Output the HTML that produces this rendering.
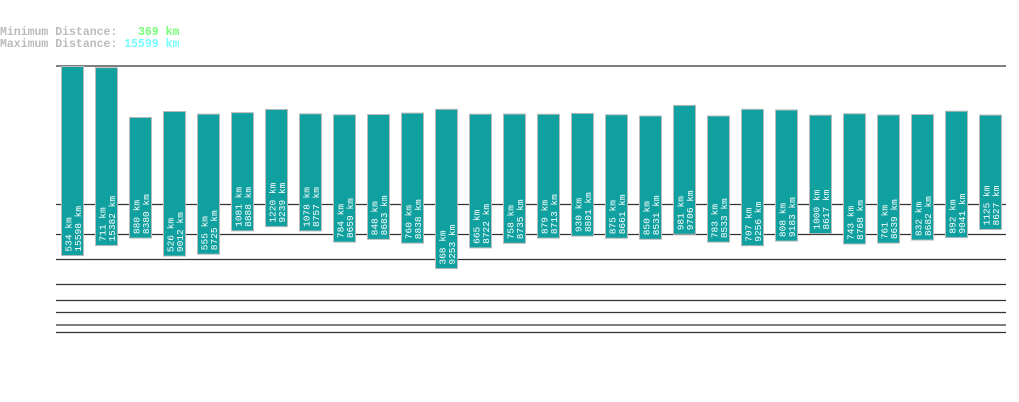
<!DOCTYPE html>
<html><head><meta charset="utf-8"><style>
body{margin:0;background:#fff;width:1019px;height:402px;overflow:hidden}
svg{display:block}
.hd{font-family:"Liberation Mono",monospace;font-size:11.5px;font-weight:bold}
.lb{font-family:"Liberation Mono",monospace;font-size:9.5px;fill:#fff}
</style></head><body>
<svg id="chart" width="1019" height="402">
<text class="hd" x="0" y="35" fill="#bbb" xml:space="preserve">Minimum Distance:   <tspan fill="#7f7">369 km</tspan></text>
<text class="hd" x="0" y="47" fill="#bbb" xml:space="preserve">Maximum Distance: <tspan fill="#7ff">15599 km</tspan></text>
<g id="lines"></g><g id="bars"></g>
</svg>
<script>
const minVals=[534,711,880,526,555,1081,1220,1078,784,848,760,368,665,758,879,930,875,850,981,783,707,808,1000,743,761,832,892,1125];
const maxVals=[15598,15382,8380,9012,8725,8888,9239,8757,8659,8683,8838,9253,8722,8735,8713,8801,8661,8531,9706,8533,9256,9183,8617,8768,8639,8682,9041,8627];
const gridYs=[66,204.5,234.5,259.5,284.5,300.5,312.5,325,332.5];
const NS="http://www.w3.org/2000/svg";
function yTop(v){return 66+(Math.log(15599)-Math.log(v))*82;}
function yBot(v){return 268+(Math.log(369)-Math.log(v))*35;}
function xBar(i){return 61+i*34;}
const lg=document.getElementById('lines');
gridYs.forEach((y,i)=>{const l=document.createElementNS(NS,'line');
l.setAttribute('x1',56);l.setAttribute('x2',1006);l.setAttribute('y1',y);l.setAttribute('y2',y);
l.setAttribute('stroke','#333');l.setAttribute('stroke-width',1.3);


lg.appendChild(l);});
const bg=document.getElementById('bars');
minVals.forEach((mn,i)=>{const mx=maxVals[i];const x=xBar(i);const t=yTop(mx),b=yBot(mn);
const r=document.createElementNS(NS,'rect');
r.setAttribute('x',x+0.5);r.setAttribute('y',t+0.5);r.setAttribute('width',22);r.setAttribute('height',b-t);
r.setAttribute('fill','#11a0a0');r.setAttribute('stroke','#bbb');r.setAttribute('stroke-width',1);


bg.appendChild(r);
[[mn,x+10.5],[mx,x+20]].forEach(([v,cx],k)=>{const tx=document.createElementNS(NS,'text');
tx.setAttribute('class','lb');tx.setAttribute('transform','translate('+cx+','+(b-3.5)+') rotate(-90)');
tx.textContent=v+' km';


bg.appendChild(tx);});
});
</script>
</body></html>
